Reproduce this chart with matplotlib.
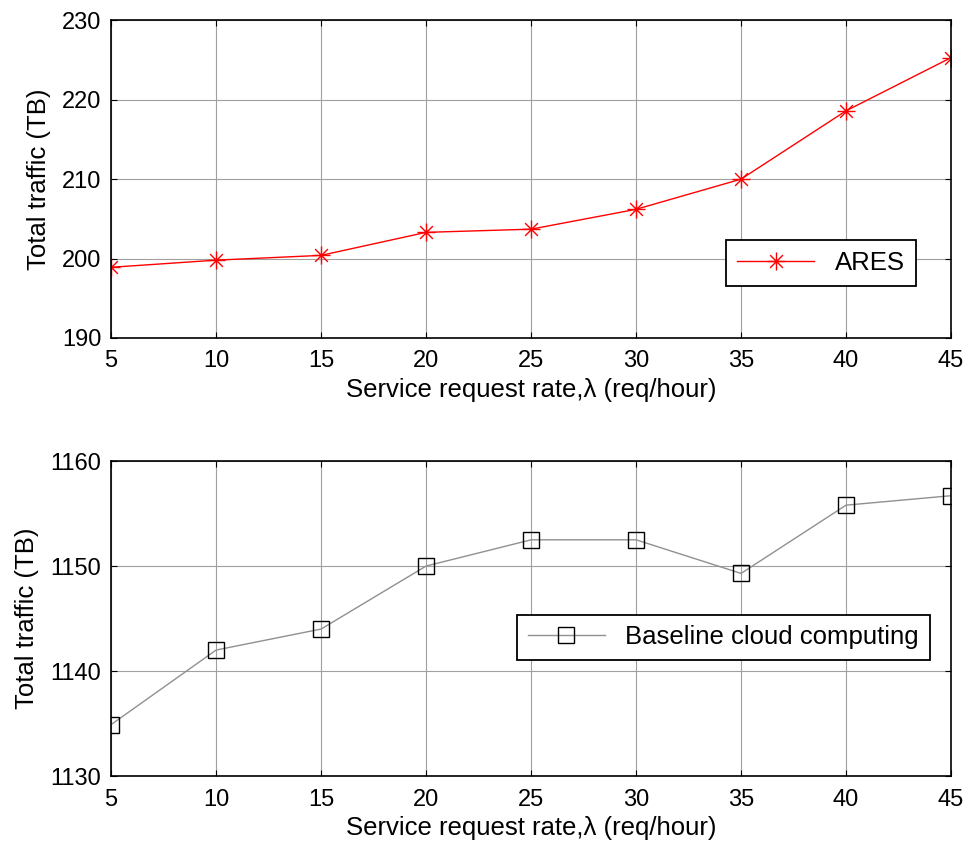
import matplotlib
matplotlib.use("Agg")
import matplotlib.pyplot as plt
from matplotlib.path import Path
import numpy as np

plt.rcParams['font.family'] = ['Liberation Sans', 'DejaVu Sans']

rates = [5, 10, 15, 20, 25, 30, 35, 40, 45]
ares = [198.9, 199.8, 200.4, 203.3, 203.7, 206.2, 210.0, 218.6, 225.3]
baseline = [1134.9, 1142.0, 1144.0, 1150.0, 1152.5, 1152.5, 1149.3, 1155.8, 1156.7]
xticks = [5, 10, 15, 20, 25, 30, 35, 40, 45]
yticks_top = [190, 200, 210, 220, 230]
yticks_bot = [1130, 1140, 1150, 1160]

# asterisk marker (MATLAB style: + and x combined)
verts, codes = [], []
d = np.sqrt(0.5)
for (a, b) in [((-1, 0), (1, 0)), ((0, -1), (0, 1)), ((-d, -d), (d, d)), ((-d, d), (d, -d))]:
    verts += [a, b]
    codes += [Path.MOVETO, Path.LINETO]
asterisk = Path(verts, codes)

fig = plt.figure(figsize=(9.66, 8.46), dpi=100)
ax1 = fig.add_axes([0.115, 0.6005, 0.8695, 0.3755])
ax2 = fig.add_axes([0.115, 0.0827, 0.8695, 0.3723])

tfs = 17
lfs = 18.5
xlabel = 'Service request rate,\u03bb (req/hour)'

def style(ax):
    ax.grid(True, color='#a0a0a0', linewidth=0.8, linestyle='-')
    ax.set_axisbelow(True)
    ax.tick_params(direction='in', top=True, right=True, labelsize=tfs, length=4)
    ax.tick_params(axis='x', pad=9)
    ax.tick_params(axis='y', pad=7)
    for s in ax.spines.values():
        s.set_linewidth(1.2)
    ax.set_xlim(5, 45)
    ax.set_xticks(xticks)

ax1.plot(rates, ares, color='red', marker=asterisk, markersize=13, linewidth=1.0,
         markeredgewidth=1.0, markeredgecolor='red', label='ARES')
style(ax1)
ax1.set_ylim(190, 230)
ax1.set_yticks(yticks_top)
ax1.set_xlabel(xlabel, fontsize=lfs, labelpad=4)
ax1.set_ylabel('Total traffic (TB)', fontsize=lfs, labelpad=8)
leg1 = ax1.legend(loc='lower right', bbox_to_anchor=(0.973, 0.123), fontsize=lfs,
                  fancybox=False, edgecolor='black', framealpha=1, handlelength=3,
                  borderpad=0.42)
leg1.get_frame().set_linewidth(1.3)

ax2.plot(rates, baseline, color='#909090', marker='s', markersize=11, linewidth=1.0,
         markerfacecolor='none', markeredgecolor='black', markeredgewidth=1.0,
         label='Baseline cloud computing')
style(ax2)
ax2.set_ylim(1130, 1160)
ax2.set_yticks(yticks_bot)
ax2.set_xlabel(xlabel, fontsize=lfs, labelpad=4)
ax2.set_ylabel('Total traffic (TB)', fontsize=lfs, labelpad=8)
leg2 = ax2.legend(loc='lower right', bbox_to_anchor=(0.99, 0.327), fontsize=lfs,
                  fancybox=False, edgecolor='black', framealpha=1, handlelength=3,
                  borderpad=0.42)
leg2.get_frame().set_linewidth(1.3)

fig.savefig('out.png', dpi=100)
